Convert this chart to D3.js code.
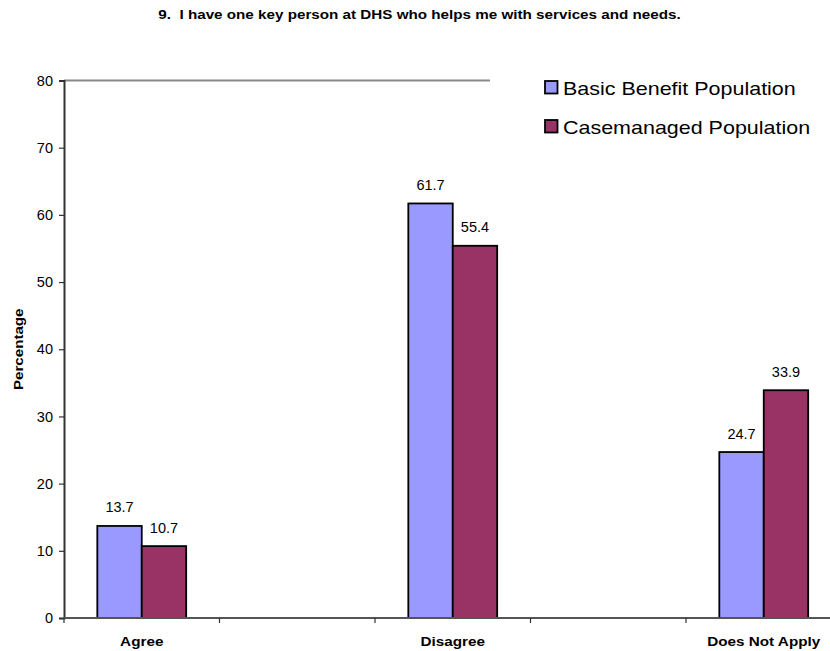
<!DOCTYPE html>
<html>
<head>
<meta charset="utf-8">
<script src="https://cdn.jsdelivr.net/npm/d3@7"></script>
<style>
  html, body { margin: 0; padding: 0; background: #fff; }
  svg { display: block; font-family: "Liberation Sans", Arial, sans-serif; }
</style>
</head>
<body>
<svg id="chart" width="830" height="651"></svg>
<script>
// Category slots along the x axis (blank slots keep the spacing between groups)
const categories = ["Agree", "", "Disagree", "", "Does Not Apply"];
const seriesNames = ["Basic Benefit Population", "Casemanaged Population"];
const basicBenefit = [13.7, null, 61.7, null, 24.7];
const caseManaged = [10.7, null, 55.4, null, 33.9];
const yTicks = [0, 10, 20, 30, 40, 50, 60, 70, 80];
const colors = ["#9999FF", "#993366"];

const svg = d3.select("#chart");
const plot = { left: 64, right: 841.5, top: 80.5, bottom: 618 };

// Widen text horizontally by factor k (the chart's lettering is set wide)
function widen(sel, k) {
  sel.each(function () {
    const w = this.getComputedTextLength();
    this.setAttribute("textLength", w * k);
    this.setAttribute("lengthAdjust", "spacingAndGlyphs");
  });
}

const x0 = d3.scaleBand().domain(d3.range(categories.length))
  .range([plot.left, plot.right]).paddingInner(0).paddingOuter(0);
const x1 = d3.scaleBand().domain([0, 1])
  .range([0, x0.bandwidth()]).paddingInner(0).paddingOuter(0.75);
const y = d3.scaleLinear().domain([0, 80]).range([plot.bottom, plot.top]);

// Title
svg.append("text")
  .attr("x", 419.5).attr("y", 19)
  .attr("text-anchor", "middle")
  .attr("font-size", 13).attr("font-weight", "bold")
  .style("white-space", "pre")
  .text("9.  I have one key person at DHS who helps me with services and needs.")
  .call(widen, 1.17);

// Top frame line of the plot area
svg.append("line")
  .attr("x1", plot.left).attr("x2", 490)
  .attr("y1", y(80)).attr("y2", y(80))
  .attr("stroke", "#888").attr("stroke-width", 2);

// Y axis
const yAxis = svg.append("g")
  .attr("transform", `translate(${plot.left},0)`)
  .call(d3.axisLeft(y).tickValues(yTicks).tickSize(5).tickPadding(6).tickFormat(d3.format("d")));
yAxis.select(".domain").attr("stroke", "#333").attr("stroke-width", 2);
yAxis.selectAll(".tick line").attr("stroke", "#333").attr("stroke-width", 1.2);
yAxis.selectAll("text").attr("font-size", 14.5).attr("fill", "#000")
  .attr("font-family", "Liberation Sans, Arial, sans-serif");

// Y axis title
svg.append("text")
  .attr("transform", `translate(23,${(plot.top + plot.bottom) / 2}) rotate(-90)`)
  .attr("text-anchor", "middle")
  .attr("font-size", 13.5).attr("font-weight", "bold")
  .text("Percentage")
  .call(widen, 1.12);

// Bars
const rows = categories.map((c, i) => ({ i, values: [basicBenefit[i], caseManaged[i]] }));
const groups = svg.append("g").selectAll("g").data(rows).join("g")
  .attr("transform", d => `translate(${x0(d.i)},0)`);

groups.selectAll("rect")
  .data(d => d.values.map((v, s) => ({ v, s })).filter(e => e.v !== null))
  .join("rect")
  .attr("x", e => x1(e.s))
  .attr("width", x1.bandwidth())
  .attr("y", e => y(e.v))
  .attr("height", e => y(0) - y(e.v))
  .attr("fill", e => colors[e.s])
  .attr("stroke", "#000").attr("stroke-width", 1.8);

groups.selectAll("text.val")
  .data(d => d.values.map((v, s) => ({ v, s })).filter(e => e.v !== null))
  .join("text")
  .attr("class", "val")
  .attr("x", e => x1(e.s) + x1.bandwidth() / 2)
  .attr("y", e => y(e.v) - 13.5)
  .attr("text-anchor", "middle")
  .attr("font-size", 14.5)
  .text(e => d3.format(".1f")(e.v));

// X axis with ticks at slot boundaries
const xAxisG = svg.append("g").attr("transform", `translate(0,${plot.bottom})`);
xAxisG.append("line")
  .attr("x1", plot.left).attr("x2", 830)
  .attr("y1", 0).attr("y2", 0)
  .attr("stroke", "#555").attr("stroke-width", 2);
xAxisG.selectAll("line.tick")
  .data(d3.range(categories.length + 1))
  .join("line")
  .attr("class", "tick")
  .attr("x1", i => plot.left + i * x0.step())
  .attr("x2", i => plot.left + i * x0.step())
  .attr("y1", 0).attr("y2", 5)
  .attr("stroke", "#333").attr("stroke-width", 1.2);
xAxisG.selectAll("text")
  .data(categories.map((c, i) => ({ c, i })).filter(d => d.c))
  .join("text")
  .attr("x", d => x0(d.i) + x0.bandwidth() / 2)
  .attr("y", 28)
  .attr("text-anchor", "middle")
  .attr("font-size", 13.5).attr("font-weight", "bold")
  .text(d => d.c)
  .call(widen, 1.13);

// Legend
const legend = svg.append("g").attr("transform", "translate(545,0)");
seriesNames.forEach((name, s) => {
  const top = 81 + s * 39;
  legend.append("rect")
    .attr("x", 0).attr("y", top)
    .attr("width", 12.5).attr("height", 12.5)
    .attr("fill", colors[s]).attr("stroke", "#000").attr("stroke-width", 1.8);
  legend.append("text")
    .attr("x", 18).attr("y", top + 14)
    .attr("font-size", 19)
    .text(name)
    .call(widen, 1.13);
});
</script>
</body>
</html>
